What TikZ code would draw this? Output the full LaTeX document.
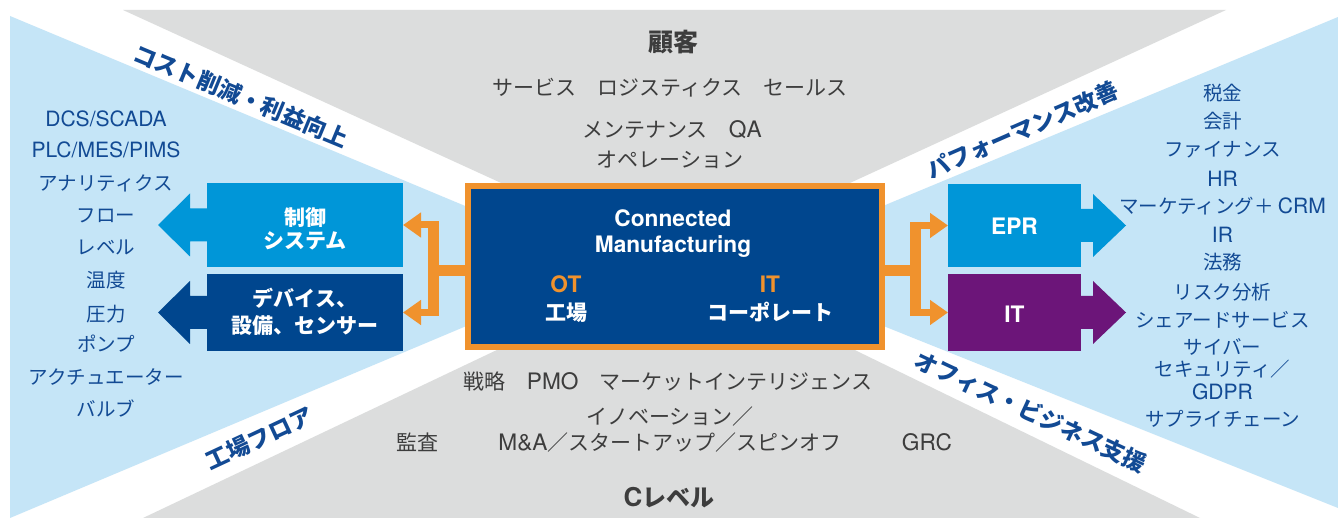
\documentclass[tikz,border=0pt]{standalone}
\usepackage{fontspec}
\setmainfont{Noto Sans CJK JP}
\newfontfamily\lat[Scale=1.08]{TeX Gyre Heros}
\usetikzlibrary{arrows.meta,calc}
\definecolor{bandgray}{HTML}{DCDDDD}
\definecolor{lightblue}{HTML}{C5E5F7}
\definecolor{navy}{HTML}{00468E}
\definecolor{midblue}{HTML}{0096D8}
\definecolor{purp}{HTML}{6C1579}
\definecolor{orng}{HTML}{F0922D}
\definecolor{txtblue}{HTML}{124A94}
\definecolor{txtgray}{HTML}{3D3D3D}
\begin{document}
\begin{tikzpicture}[x=1pt,y=-1pt,
  boxnode/.style={inner sep=0pt, outer sep=0pt},
  lst/.style={font=\fontsize{19.5}{22}\selectfont, text=txtblue, anchor=base, inner sep=0pt},
  gtx/.style={font=\fontsize{21}{24}\selectfont, text=txtgray, anchor=base, inner sep=0pt},
  diag/.style={font=\bfseries\fontsize{23}{26}\selectfont, text=txtblue, inner sep=0pt},
  wtx/.style={font=\bfseries\fontsize{21}{24}\selectfont, text=white, anchor=base, inner sep=0pt},
  otx/.style={font=\bfseries\fontsize{21}{24}\selectfont, text=orng, anchor=base, inner sep=0pt},
  obar/.style={draw=orng, line width=11pt},
  oarm/.style={draw=orng, line width=7pt, -{Triangle[length=18pt,width=24pt]}}
]
\useasboundingbox (0,0) rectangle (1338,518);
\fill[white] (0,0) rectangle (1338,518);
% background X shape
\fill[bandgray] (123,10) -- (1226,10) -- (676,263) -- cycle;
\fill[bandgray] (143,518) -- (1200,518) -- (678,264) -- cycle;
\fill[lightblue] (10,16) -- (10,518) -- (609,266) -- cycle;
\fill[lightblue] (1338,17) -- (1338,508) -- (736,267) -- cycle;

% boxes
\node[boxnode, fill=navy, draw=orng, line width=6pt, outer sep=3pt,
      minimum width=414pt, minimum height=161pt] (core) at (675,266.5) {};
\node[boxnode, fill=midblue, minimum width=196pt, minimum height=84pt] (ctrl) at (305,225) {};
\node[boxnode, fill=navy, minimum width=196pt, minimum height=77pt] (dev) at (305,312.5) {};
\node[boxnode, fill=midblue, minimum width=133pt, minimum height=83pt] (epr) at (1014.5,225.5) {};
\node[boxnode, fill=purp, minimum width=133pt, minimum height=77pt] (it) at (1014.5,312.5) {};

% big arrows out of the side boxes
\fill[midblue] (ctrl.west) ++(0,-16.5) -- ++(-17,0) -- ++(0,-15) -- ++(-32,31.5) -- ++(32,31.5) -- ++(0,-15) -- ++(17,0) -- cycle;
\fill[navy] (dev.west) ++(0,-16.5) -- ++(-17,0) -- ++(0,-15) -- ++(-32,31.5) -- ++(32,31.5) -- ++(0,-15) -- ++(17,0) -- cycle;
\fill[midblue] (epr.east) ++(0,-16.5) -- ++(12,0) -- ++(0,-15) -- ++(33,31.5) -- ++(-33,31.5) -- ++(0,-15) -- ++(-12,0) -- cycle;
\fill[purp] (it.east) ++(0,-16.5) -- ++(12,0) -- ++(0,-15) -- ++(33,31.5) -- ++(-33,31.5) -- ++(0,-15) -- ++(-12,0) -- cycle;

% orange connectors
\coordinate (lj) at (433,271);
\coordinate (rj) at (915.5,271);
\draw[obar] (core.west |- lj) -- (lj);
\draw[obar] ($(lj |- ctrl.east)+(0,-3.5)$) -- ($(lj |- dev.east)+(0,3.5)$);
\draw[oarm] (lj |- ctrl.east) -- (ctrl.east);
\draw[oarm] (lj |- dev.east) -- (dev.east);
\draw[obar] (core.east |- rj) -- (rj);
\draw[obar] ($(rj |- epr.west)+(0,-3.5)$) -- ($(rj |- it.west)+(0,3.5)$);
\draw[oarm] (rj |- epr.west) -- (epr.west);
\draw[oarm] (rj |- it.west) -- (it.west);

% texts in boxes
\node[wtx] (t1) at (673,227) {\lat Connected};
\node[wtx] (t2) at (673,253) {\lat Manufacturing};
\node[otx] (t3) at (566,293) {\lat OT};
\node[wtx] (t4) at (566,320.5) {工場};
\node[otx] (t5) at (770,293) {\lat IT};
\node[wtx] (t6) at (770,320.5) {コーポレート};
\node[wtx] (t7) at (305,225.5) {制御};
\node[wtx] (t8) at (305,248.5) {システム};
\node[wtx] (t9) at (305,306.5) {デバイス、};
\node[wtx] (t10) at (305,333.5) {設備、センサー};
\node[wtx] (t11) at (1014.5,235) {\lat EPR};
\node[wtx] (t12) at (1014.5,323) {\lat IT};

% top gray texts
\node[gtx, font=\bfseries\fontsize{25}{28}\selectfont] (g1) at (673,52) {顧客};
\node[gtx] (g2) at (670,95.5) {サービス　ロジスティクス　セールス};
\node[gtx] (g3) at (672,137.5) {メンテナンス　{\lat QA}};
\node[gtx] (g4) at (670,167.5) {オペレーション};
% bottom gray texts
\node[gtx] (g5) at (668,389) {戦略　{\lat PMO}　マーケットインテリジェンス};
\node[gtx] (g6) at (670,424.5) {イノベーション／};
\node[gtx] (g7) at (670,450.5) {{\lat M\&A}／スタートアップ／スピンオフ};
\node[gtx] (g8) at (417,450.5) {監査};
\node[gtx] (g9) at (927,450.5) {\lat GRC};
\node[gtx, font=\bfseries\fontsize{24}{28}\selectfont] (g10) at (669,506) {{\lat C}レベル};

% left list
\node[lst] (l1) at (106,126.5) {\lat DCS/SCADA};
\node[lst] (l2) at (106,158) {\lat PLC/MES/PIMS};
\node[lst] (l3) at (106,191) {アナリティクス};
\node[lst] (l4) at (106,223) {フロー};
\node[lst] (l5) at (106,254.5) {レベル};
\node[lst] (l6) at (106,287.5) {温度};
\node[lst] (l7) at (106,321.5) {圧力};
\node[lst] (l8) at (106,352) {ポンプ};
\node[lst] (l9) at (106,384.5) {アクチュエーター};
\node[lst] (l10) at (106,416.5) {バルブ};

% right list
\node[lst] (r1) at (1222.5,100.5) {税金};
\node[lst] (r2) at (1222.5,128.5) {会計};
\node[lst] (r3) at (1222.5,156.5) {ファイナンス};
\node[lst] (r4) at (1222.5,187) {\lat HR};
\node[lst] (r5) at (1222.5,213.5) {マーケティング＋ {\lat CRM}};
\node[lst] (r6) at (1222.5,243) {\lat IR};
\node[lst] (r7) at (1222.5,270) {法務};
\node[lst] (r8) at (1222.5,299.5) {リスク分析};
\node[lst] (r9) at (1222.5,327.5) {シェアードサービス};
\node[lst] (r10) at (1222.5,354.5) {サイバー};
\node[lst] (r11) at (1222.5,377) {セキュリティ／};
\node[lst] (r12) at (1222.5,399) {\lat GDPR};
\node[lst] (r13) at (1222.5,426.5) {サプライチェーン};

% diagonal labels
\node[diag, rotate=-22.5] (d1) at (241,96) {コスト削減・利益向上};
\node[diag, rotate=25] (d2) at (259.5,438.5) {工場フロア};
\node[diag, rotate=23.5] (d3) at (1022.5,130) {パフォーマンス改善};
\node[diag, rotate=-25] (d4) at (1031,411.5) {オフィス・ビジネス支援};
\end{tikzpicture}
\end{document}
